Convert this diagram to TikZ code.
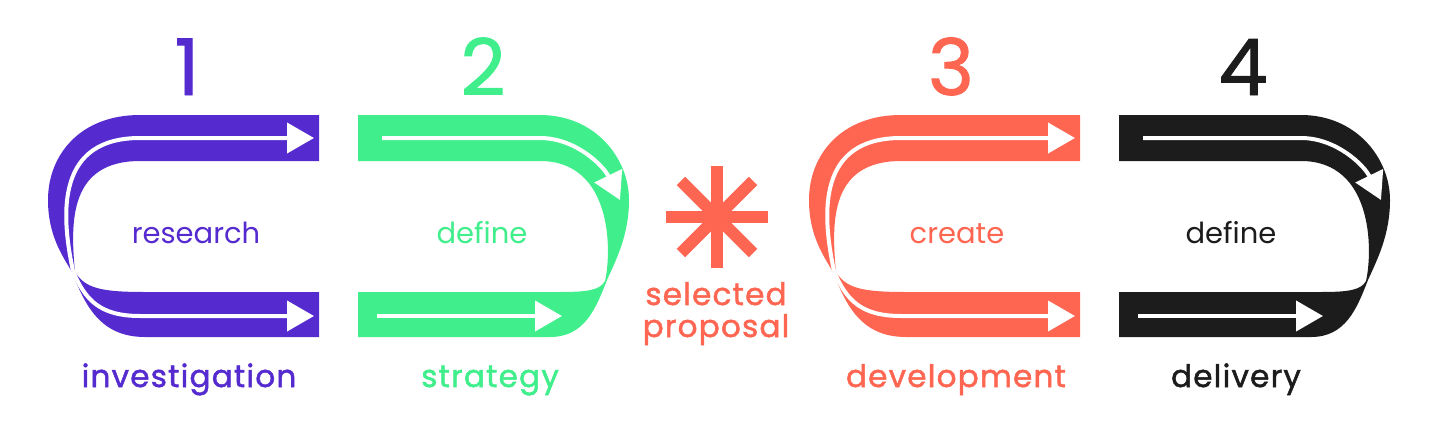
\documentclass[tikz,border=0pt]{standalone}
\usepackage{fontspec}
\setmainfont{Poppins}
\newfontfamily\medfont{Poppins}[FakeBold=1.6,LetterSpace=4]
\newfontfamily\numfont{Poppins}[FakeBold=1.2]
\usepackage{tikz}
\usetikzlibrary{arrows.meta,positioning}

\definecolor{purp}{RGB}{85,43,207}
\definecolor{grn}{RGB}{64,238,140}
\definecolor{orng}{RGB}{255,102,82}
\definecolor{blk}{RGB}{28,28,28}

% loop open to the right: shift, colour
\newcommand{\leftloop}[2]{%
  \begin{scope}[xshift=#1]
    \fill[#2] (319,115) -- (140,115) .. controls (80,115) and (48,155) .. (48,200)
      .. controls (48,235) and (62,255) .. (72,272)
      .. controls (85,305) and (100,337) .. (145,337) -- (319,337) -- (319,292) -- (145,292)
      .. controls (100,292) and (85,288) .. (75,272)
      .. controls (70,220) and (70,161) .. (140,161) -- (319,161) -- cycle;
    \coordinate (neck) at (73,271);
    \draw[flow] (neck) .. controls (60,210) and (58,138) .. (140,138) -- (314,138);
    \draw[flow] (neck) .. controls (85,300) and (100,316) .. (140,316) -- (314,316);
  \end{scope}}

% loop open to the left: shift, colour
\newcommand{\rightloop}[2]{%
  \begin{scope}[xshift=#1]
    \fill[#2] (358,115) -- (540,115) .. controls (595,115) and (629,158) .. (629,200)
      .. controls (629,235) and (616,260) .. (607,280)
      .. controls (596,308) and (585,337) .. (550,337) -- (358,337) -- (358,292) -- (560,292)
      .. controls (588,292) and (600,290) .. (605,281)
      .. controls (612,250) and (612,161) .. (540,161) -- (358,161) -- cycle;
    \coordinate (topstart) at (382,138);
    \coordinate (botstart) at (377,316);
    \draw[flow] (topstart) -- (540,138) .. controls (575,138) and (603,165) .. (620,200);
    \draw[flow] (botstart) -- (562,316);
  \end{scope}}

\begin{document}
\begin{tikzpicture}[
  x=1pt, y=-1pt,
  flow/.style={draw=white, line width=4pt, -{Triangle[length=27pt,width=30pt]}},
  numlabel/.style={anchor=base, inner sep=0pt, font=\numfont\fontsize{78}{80}\selectfont},
  inlabel/.style={anchor=base, inner sep=0pt, font=\fontsize{29}{32}\selectfont},
  steplabel/.style={anchor=base, inner sep=0pt, font=\medfont\fontsize{31}{34}\selectfont}
]
  \useasboundingbox (0,0) rectangle (1440,426);

  \leftloop{0}{purp}
  \rightloop{0}{grn}
  \leftloop{761}{orng}
  \rightloop{761}{blk}

  % step numbers
  \node[numlabel, text=purp] (num1) at (187,95)  {1};
  \node[numlabel, text=grn]  (num2) at (483,95)  {2};
  \node[numlabel, text=orng] (num3) at (951,95)  {3};
  \node[numlabel, text=blk]  (num4) at (1243,95) {4};

  % inner labels
  \node[inlabel, text=purp] (research) at (196,243)  {research};
  \node[inlabel, text=grn]  (define1)  at (482,243)  {define};
  \node[inlabel, text=orng] (create)   at (957,243)  {create};
  \node[inlabel, text=blk]  (define2)  at (1231,243) {define};

  % step names
  \node[steplabel, text=purp] (investigation) at (189,387)  {investigation};
  \node[steplabel, text=grn]  (strategy)      at (490,387)  {strategy};
  \node[steplabel, text=orng] (development)   at (956,387)  {development};
  \node[steplabel, text=blk]  (delivery)      at (1236,387) {delivery};

  % selected proposal
  \foreach \a in {0,45,90,135}
    \draw[orng, line width=12pt] (717,217) ++(\a:51) -- ++(\a+180:102);
  \node[steplabel, text=orng] (selected) at (716,305) {selected};
  \node[steplabel, text=orng] (proposal) at (716,337) {proposal};
\end{tikzpicture}
\end{document}
